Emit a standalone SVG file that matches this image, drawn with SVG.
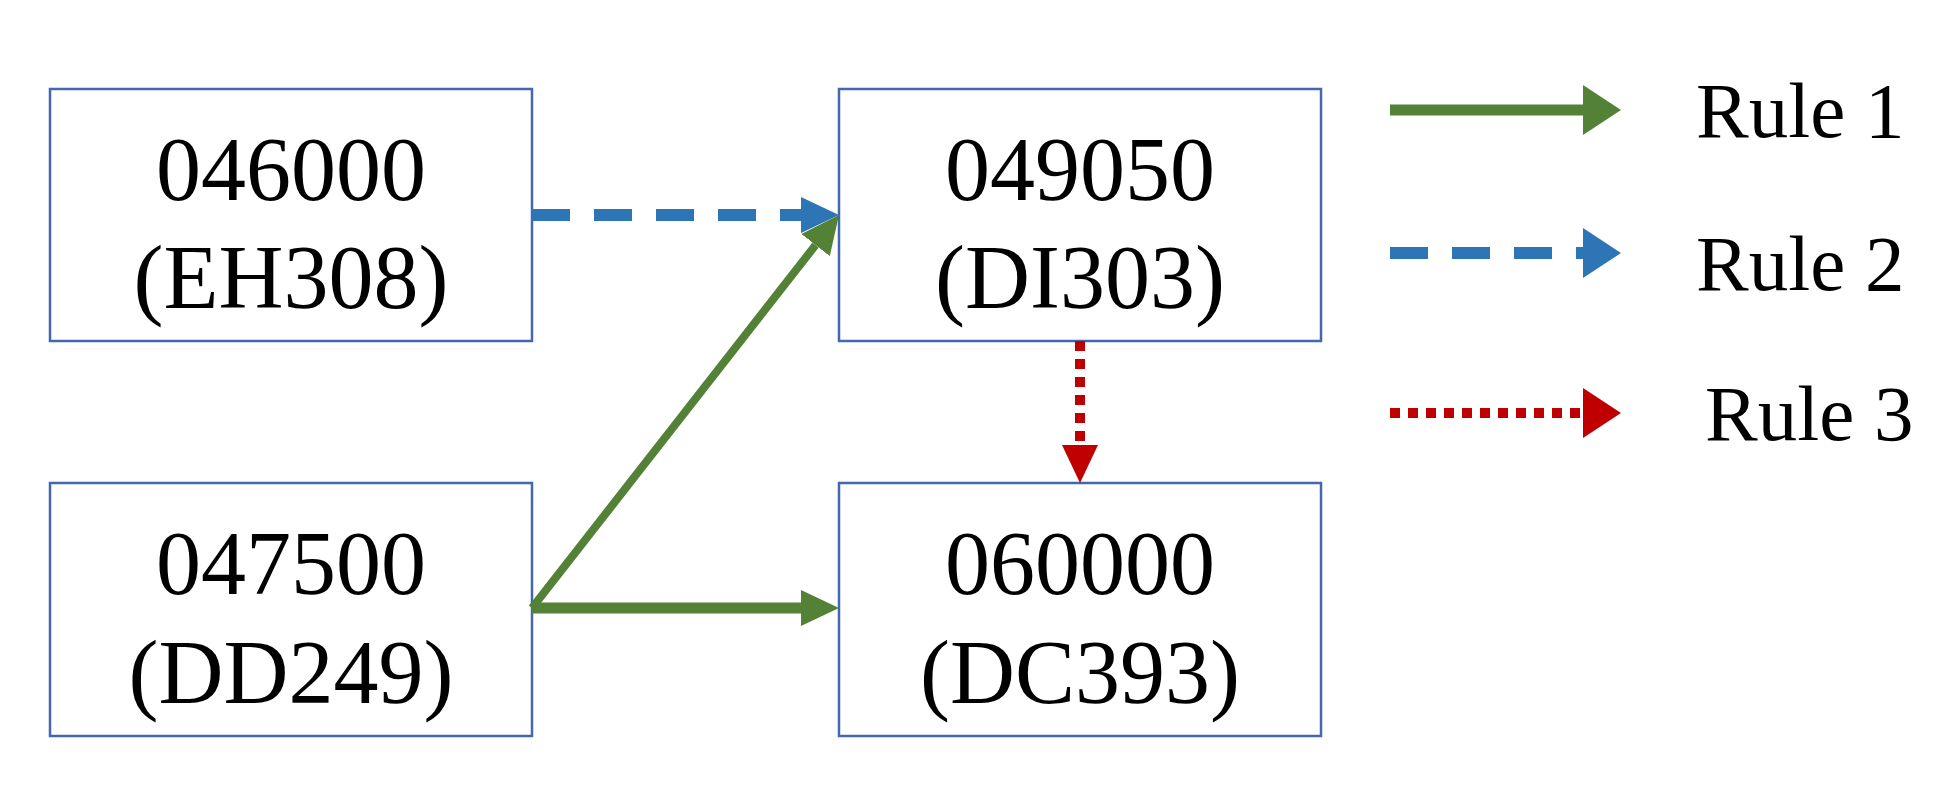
<svg xmlns="http://www.w3.org/2000/svg" width="1958" height="807" viewBox="0 0 1958 807">
<style>
.box{fill:#fff;stroke:#4468b0;stroke-width:2.5}
.t{font-family:"Liberation Serif",serif;font-size:90px;text-anchor:middle;fill:#000}
.l{font-family:"Liberation Serif",serif;font-size:79px;fill:#000}
.g{stroke:#538135;stroke-width:8;fill:none}
.gw{stroke:#538135;stroke-width:11;fill:none}
.b{stroke:#2e75b6;stroke-width:12;stroke-dasharray:38 24;fill:none}
.r{stroke:#c00000;stroke-width:10;stroke-dasharray:10 8;fill:none}
</style>
<defs>
<marker id="mg" markerUnits="userSpaceOnUse" markerWidth="40" markerHeight="40" refX="0" refY="20" orient="auto"><path d="M0,2 L38,20 L0,38 Z" fill="#538135"/></marker>
<marker id="mb" markerUnits="userSpaceOnUse" markerWidth="40" markerHeight="40" refX="0" refY="20" orient="auto"><path d="M0,2 L38,20 L0,38 Z" fill="#2e75b6"/></marker>
<marker id="mr" markerUnits="userSpaceOnUse" markerWidth="40" markerHeight="40" refX="0" refY="20" orient="auto"><path d="M0,2 L38,20 L0,38 Z" fill="#c00000"/></marker>
<marker id="Lg" markerUnits="userSpaceOnUse" markerWidth="40" markerHeight="50" refX="0" refY="25" orient="auto"><path d="M0,0 L38,25 L0,50 Z" fill="#538135"/></marker>
<marker id="Lb" markerUnits="userSpaceOnUse" markerWidth="40" markerHeight="50" refX="0" refY="25" orient="auto"><path d="M0,0 L38,25 L0,50 Z" fill="#2e75b6"/></marker>
<marker id="Lr" markerUnits="userSpaceOnUse" markerWidth="40" markerHeight="50" refX="0" refY="25" orient="auto"><path d="M0,0 L38,25 L0,50 Z" fill="#c00000"/></marker>
</defs>
<rect width="1958" height="807" fill="#fff"/>
<g id="n1"><rect class="box" x="50" y="89" width="482" height="252"/><text class="t" x="291" y="200">046000</text><text class="t" x="291" y="308">(EH308)</text></g>
<g id="n2"><rect class="box" x="839" y="89" width="482" height="252"/><text class="t" x="1080" y="200">049050</text><text class="t" x="1080" y="308">(DI303)</text></g>
<g id="n3"><rect class="box" x="50" y="483" width="482" height="253"/><text class="t" x="291" y="594">047500</text><text class="t" x="291" y="703">(DD249)</text></g>
<g id="n4"><rect class="box" x="839" y="483" width="482" height="253"/><text class="t" x="1080" y="594">060000</text><text class="t" x="1080" y="703">(DC393)</text></g>
<g id="connectors">
<line class="b" x1="532" y1="215" x2="801" y2="215" marker-end="url(#mb)"/>
<line class="g" x1="532" y1="608" x2="815.6" y2="245" marker-end="url(#mg)"/>
<line class="gw" x1="532" y1="608" x2="801" y2="608" marker-end="url(#mg)"/>
<line class="r" x1="1080" y1="341" x2="1080" y2="445" marker-end="url(#mr)"/>
</g>
<g id="legend">
<line class="gw" x1="1390" y1="110" x2="1583" y2="110" marker-end="url(#Lg)"/>
<line class="b" x1="1390" y1="253" x2="1583" y2="253" marker-end="url(#Lb)"/>
<line class="r" x1="1390" y1="413" x2="1583" y2="413" marker-end="url(#Lr)"/>
<text class="l" x="1696" y="137">Rule 1</text>
<text class="l" x="1696" y="290">Rule 2</text>
<text class="l" x="1705" y="440">Rule 3</text>
</g>
</svg>
